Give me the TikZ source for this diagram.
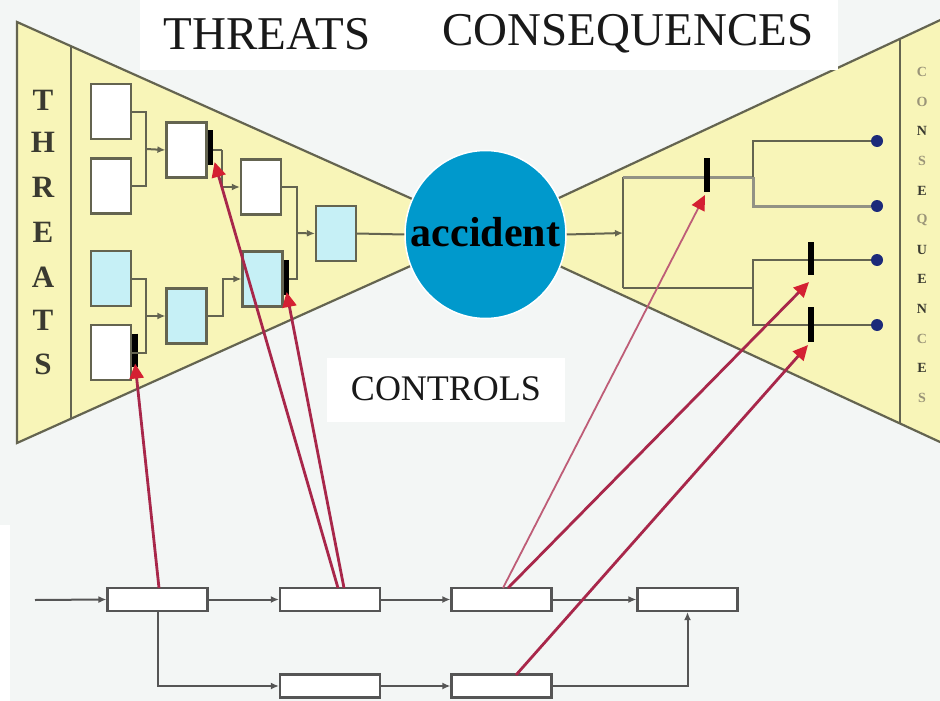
\documentclass[tikz,border=0pt]{standalone}
\usepackage{fontspec}
\setmainfont{Liberation Serif}
\usetikzlibrary{arrows.meta,shapes.geometric}
\definecolor{bg}{HTML}{F3F6F5}
\definecolor{yel}{HTML}{F8F5B8}
\definecolor{edge}{HTML}{646450}
\definecolor{cy}{HTML}{C6F0F6}
\definecolor{acc}{HTML}{0099CC}
\definecolor{ctl}{HTML}{A8274A}
\definecolor{ctlhead}{HTML}{D42032}
\definecolor{dotc}{HTML}{1C2A7A}
\definecolor{flow}{HTML}{555555}
\definecolor{lettr}{HTML}{3A3A30}
\definecolor{lettl}{HTML}{9A9478}
\tikzset{
  evbox/.style={draw=edge, line width=2.2pt, fill=white, inner sep=0pt, minimum width=40pt, minimum height=55pt},
  cybox/.style={evbox, fill=cy},
  conn/.style={draw=edge, line width=2pt},
  connarr/.style={conn, -{Latex[length=8pt,width=7pt]}},
  barstyle/.style={draw=black, line width=5.5pt},
  fbox/.style={draw=flow, line width=2.2pt, fill=white, inner sep=0pt, minimum width=100pt, minimum height=23pt},
  flowline/.style={draw=flow, line width=2pt},
  flowarr/.style={flowline, -{Latex[length=8pt,width=7pt]}},
  ctlarrow/.style={draw=ctl, line width=2.8pt, -{Triangle[length=15pt,width=14pt,color=ctlhead]}},
  conseqdot/.style={circle, fill=dotc, inner sep=0pt, minimum size=12pt},
  bigletter/.style={font=\fontsize{31}{31}\selectfont\bfseries, text=lettr},
  smallletter/.style={font=\fontsize{14}{14}\selectfont\bfseries},
}
\begin{document}
\begin{tikzpicture}[x=1pt,y=-1pt]
\useasboundingbox (0,0) rectangle (940,701);
\clip (0,0) rectangle (940,701);
\fill[bg] (0,0) rectangle (940,701);
\fill[white] (0,525) rectangle (10,701);

% bow-tie wings
\filldraw[fill=yel, draw=edge, line width=2.2pt] (17,22) -- (486,232) -- (17,443) -- cycle;
\filldraw[fill=yel, draw=edge, line width=2.2pt] (486,232) -- (980,1.5) -- (980,460.5) -- cycle;
\draw[edge, line width=2.2pt] (71,46) -- (71,418.5);
\draw[edge, line width=2.2pt] (900,38.6) -- (900,424);

% THREATS letters
\foreach \l/\yy in {T/100,H/142,R/187,E/232,A/277,T/320,S/364}
  \node[bigletter] at (43,\yy) {\l};
% CONSEQUENCES letters
\foreach \l/\yy/\c in {C/72/lettl,O/101.6/lettl,N/131.3/lettr,S/160.9/lettl,E/190.5/lettr,Q/220.2/lettl,U/249.8/lettr,E/279.4/lettr,N/309.1/lettr,C/338.7/lettl,E/368.4/lettr,S/398/lettl}
  \node[smallletter, text=\c] at (922,\yy) {\l};

% threat side boxes
\node[evbox] (A1) at (111,111.5) {};
\node[evbox] (A2) at (111,186) {};
\node[cybox] (A3) at (111,278.5) {};
\node[evbox] (A4) at (111,352.5) {};
\node[evbox] (B1) at (186.5,150) {};
\node[cybox] (B2) at (186.5,316) {};
\node[evbox] (C1) at (261,187) {};
\node[cybox] (C2) at (262.5,279) {};
\node[cybox] (D) at (336,233.5) {};

% barriers on threat side
\draw[barstyle] (B1.east) ++(3,-20) coordinate (b1top) -- ++(0,35) coordinate (b1bot);
\draw[barstyle] (A4.east) ++(3,-19) coordinate (a4top) -- ++(0,33) coordinate (a4bot);
\draw[barstyle] (C2.east) ++(3,-19) coordinate (c2top) -- ++(0,35) coordinate (c2bot);

% threat side connectors
\coordinate (j1) at (146,149);
\coordinate (j2) at (146,316);
\coordinate (j3) at (297,233);
\draw[conn] (A1.east) -| (j1) |- (A2.east);
\draw[connarr] (j1) -- (B1.west);
\draw[conn] (A3.east) -| (j2) |- (A4.east);
\draw[connarr] (j2) -- (B2.west);
\draw[conn] (B1.east) ++(5,0) coordinate (b1out) -- ++(9,0) coordinate (b1k);
\draw[connarr] (b1k) |- (C1.west);
\draw[connarr] (B2.east) -- ++(15,0) |- (C2.west);
\draw[conn] (C1.east) -| (j3) |- ([xshift=5pt]C2.east);
\draw[connarr] (j3) -- (D.west);

% accident
\node[ellipse, fill=acc, draw=white, line width=1.5pt, minimum width=161pt, minimum height=168pt, inner sep=0pt] (acc) at (485.5,234.5) {};
\draw[conn] (D.east) -- (acc.west);
\node[font=\fontsize{42}{42}\selectfont\bfseries, anchor=base] at (485.5,246) {accident};

% consequence side
\coordinate (k0) at (623,233);
\coordinate (ktop) at (623,177);
\coordinate (kbot) at (623,288);
\coordinate (u1) at (753,177);
\coordinate (u2) at (753,288);
\draw[connarr] (acc.east) -- (k0);
\draw[conn] (ktop) -- (kbot);
\draw[conn, line width=3pt, draw=edge!70] (ktop) -- (u1);
\draw[conn] (kbot) -- (u2);
\node[conseqdot] (q1) at (877,141) {};
\node[conseqdot] (q2) at (877,206) {};
\node[conseqdot] (q3) at (877,260) {};
\node[conseqdot] (q4) at (877,325) {};
\draw[conn] (q1) -| (u1);
\draw[conn, line width=3pt, draw=edge!70] (u1) |- (q2);
\draw[conn] (q3) -| (u2) |- (q4);
\draw[barstyle] (707,158) coordinate (r1top) -- (707,192) coordinate (r1bot);
\draw[barstyle] (811,242) coordinate (r2top) -- (811,275) coordinate (r2bot);
\draw[barstyle] (811,307) coordinate (r3top) -- (811,342) coordinate (r3bot);

% titles
\fill[white] (140,0) rectangle (838,70);
\node[font=\fontsize{47}{47}\selectfont, text=black!90] (tthr) at (267,34) {THREATS};
\node[font=\fontsize{47}{47}\selectfont, text=black!90] (tcon) at (628,34) {CONSEQUENCES};
\fill[white] (327,358) rectangle (565,422);
\node[font=\fontsize{36}{36}\selectfont, text=black!90] (tctl) at (446,389) {CONTROLS};

% control flow
\node[fbox] (f1) at (157.5,599.5) {};
\node[fbox] (f2) at (330,599.5) {};
\node[fbox] (f3) at (501.5,599.5) {};
\node[fbox] (f4) at (687.5,599.5) {};
\node[fbox] (f5) at (330,686) {};
\node[fbox] (f6) at (501.5,686) {};
\coordinate (fin) at (35,600);
\draw[flowarr] (fin) -- (f1.west);
\draw[flowarr] (f1) -- (f2);
\draw[flowarr] (f2) -- (f3);
\draw[flowarr] (f3) -- (f4);
\draw[flowarr] (f1.south) |- (f5.west);
\draw[flowarr] (f5) -- (f6);
\draw[flowarr] (f6.east) -| (f4.south);

% control arrows
\coordinate (s1) at (159,588);
\coordinate (s2a) at (338,588);
\coordinate (s2b) at (344,588);
\coordinate (s3a) at (503,588);
\coordinate (s3b) at (508,588);
\coordinate (s6) at (516,675);
\draw[ctlarrow] (s1) -- ([yshift=3pt]a4bot);
\draw[ctlarrow] (s2a) -- ([xshift=4pt,yshift=3pt]b1bot);
\draw[ctlarrow] (s2b) -- ([yshift=3pt]c2bot);
\draw[ctlarrow, line width=1.8pt, draw=ctl!75] (s3a) -- ([xshift=-2pt,yshift=-3pt]r1bot);
\draw[ctlarrow] (s3b) -- ([xshift=-2pt,yshift=-7pt]r2bot);
\draw[ctlarrow] (s6) -- ([xshift=-3pt,yshift=-3pt]r3bot);
\end{tikzpicture}
\end{document}
